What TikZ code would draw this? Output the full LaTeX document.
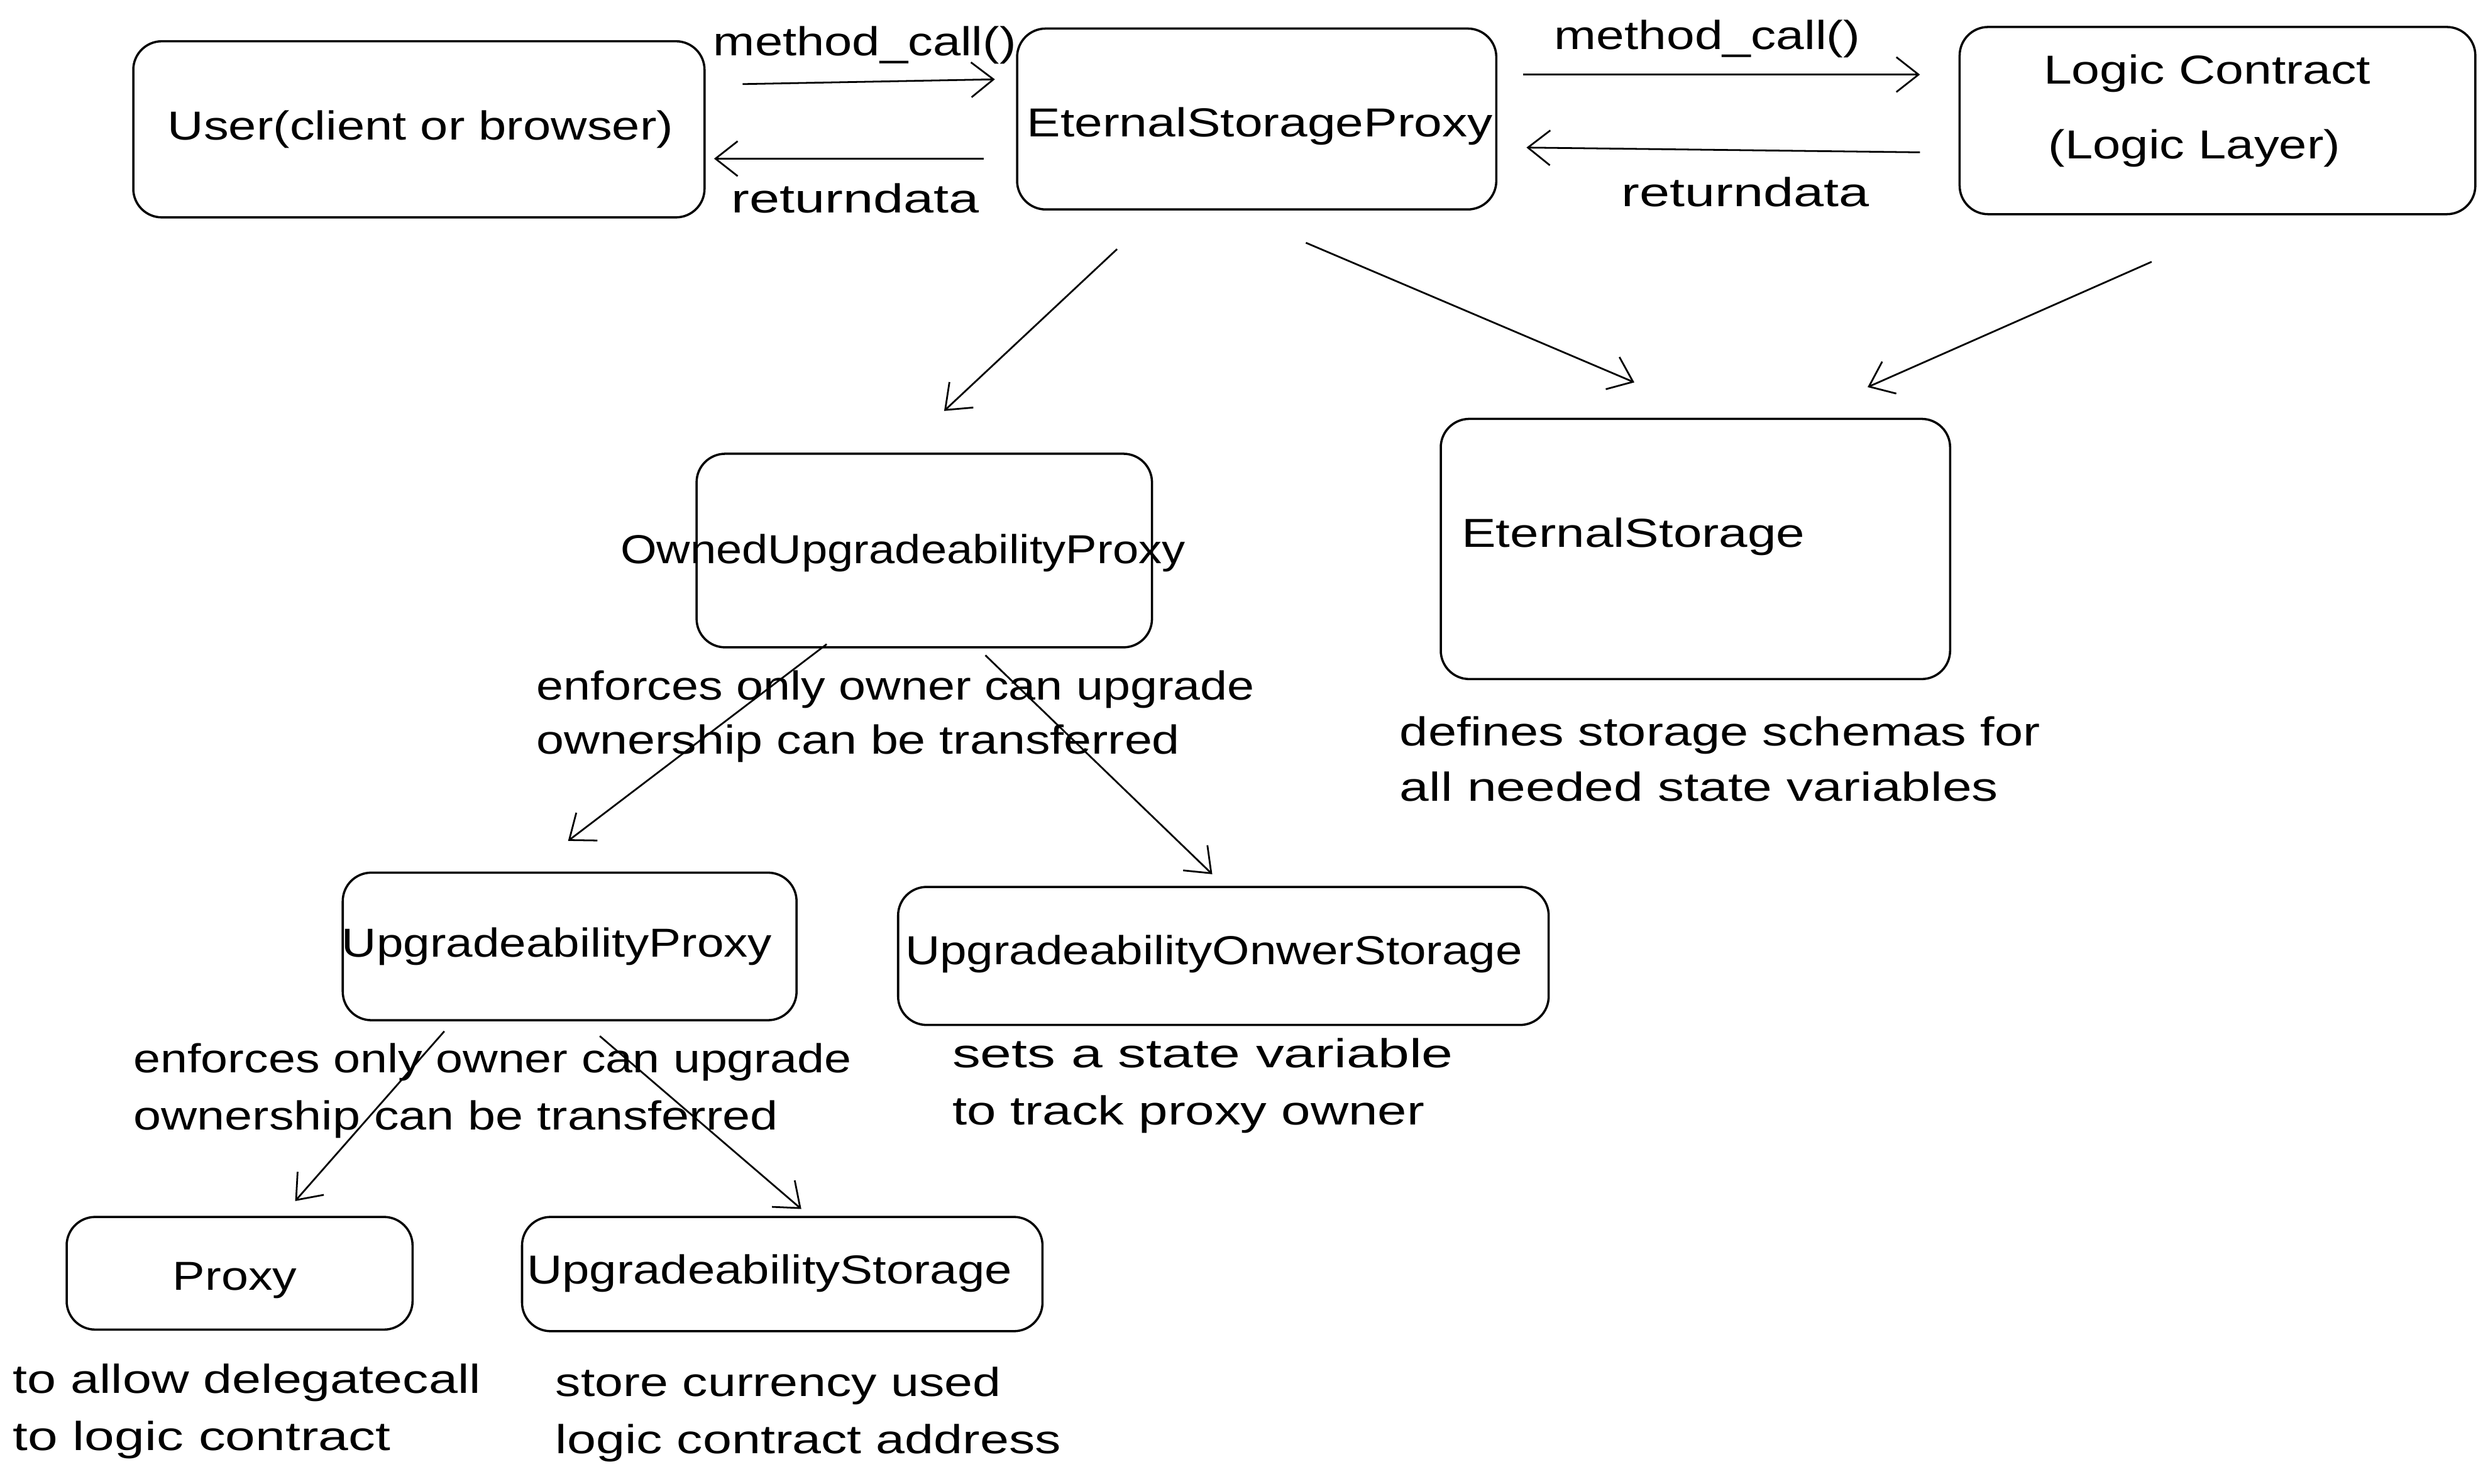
\documentclass[tikz,border=0pt]{standalone}
\usepackage{fontspec}
\usepackage{graphicx}
\setmainfont{Liberation Sans}[FakeStretch=1.2]
\usetikzlibrary{arrows.meta}
\newcommand{\sx}[2]{\scalebox{#1}[1]{#2}}
\begin{document}
\begin{tikzpicture}[x=1pt,y=-1pt,
  box/.style={draw,line width=1.4pt,rounded corners=18pt,minimum width=#1},
  lbl/.style={inner sep=0pt,font=\fontsize{25.5}{30}\selectfont},
  txt/.style={inner sep=0pt,anchor=base west,font=\fontsize{25.5}{30}\selectfont},
  arr/.style={line width=1.1pt,-{Straight Barb[length=14pt,width=22pt,line width=1.1pt]}}]
\useasboundingbox (0,0) rectangle (1568,935);
% boxes
\node[box=360pt,minimum height=111pt] (user) at (264,81.5) {};
\node[box=302pt,minimum height=114pt] (esp) at (792,75) {};
\node[box=325pt,minimum height=118pt] (logic) at (1397.5,76) {};
\node[box=287pt,minimum height=122pt] (oup) at (582.5,347) {};
\node[box=321pt,minimum height=164pt] (es) at (1068.5,346) {};
\node[box=286pt,minimum height=93pt] (up) at (359,596.5) {};
\node[box=410pt,minimum height=87pt] (uos) at (771,602.5) {};
\node[box=218pt,minimum height=71pt] (proxy) at (151,802.5) {};
\node[box=328pt,minimum height=72pt] (us) at (493,803) {};
% box labels
\node[lbl,anchor=base] (userl) at (265,88) {\sx{1.03}{User(client or browser)}};
\node[lbl,anchor=base] (espl) at (794,86) {\sx{1.04}{EternalStorageProxy}};
\node[lbl,anchor=base] (logicl1) at (1391,53) {\sx{1.045}{Logic Contract}};
\node[lbl,anchor=base] (logicl2) at (1383,100) {\sx{1.03}{(Logic Layer)}};
\node[lbl,anchor=base] (oupl) at (569,355) {\sx{0.96}{OwnedUpgradeabilityProxy}};
\node[lbl,anchor=base west] (esl) at (921,345) {\sx{1.06}{EternalStorage}};
\node[lbl,anchor=base] (upl) at (351,603) {\sx{0.99}{UpgradeabilityProxy}};
\node[lbl,anchor=base] (uosl) at (765,608) {\sx{0.99}{UpgradeabilityOnwerStorage}};
\node[lbl,anchor=base] (proxyl) at (148,813) {Proxy};
\node[lbl,anchor=base] (usl) at (485,809) {\sx{1.01}{UpgradeabilityStorage}};
% connector labels
\node[lbl,anchor=base] (mc1) at (545,35) {\sx{1.03}{method\_call()}};
\node[lbl,anchor=base] (rd1) at (539,134) {\sx{1.12}{returndata}};
\node[lbl,anchor=base] (mc2) at (1076,31) {\sx{1.04}{method\_call()}};
\node[lbl,anchor=base] (rd2) at (1100,130) {\sx{1.12}{returndata}};
% descriptions
\node[txt] (d1a) at (338,441) {enforces only owner can upgrade};
\node[txt] (d1b) at (338,475) {\sx{1.023}{ownership can be transferred}};
\node[txt] (d2a) at (882,470) {\sx{1.05}{defines storage schemas for}};
\node[txt] (d2b) at (882,505) {\sx{1.087}{all needed state variables}};
\node[txt] (d3a) at (84,676) {enforces only owner can upgrade};
\node[txt] (d3b) at (84,712) {\sx{1.025}{ownership can be transferred}};
\node[txt] (d4a) at (600,673) {\sx{1.16}{sets a state variable}};
\node[txt] (d4b) at (600,709) {\sx{1.08}{to track proxy owner}};
\node[txt] (d5a) at (8,878) {\sx{1.07}{to allow delegatecall}};
\node[txt] (d5b) at (8,914) {\sx{1.11}{to logic contract}};
\node[txt] (d6a) at (350,880) {\sx{1.045}{store currency used}};
\node[txt] (d6b) at (350,916) {\sx{1.07}{logic contract address}};
% connector end points
\coordinate (a1s) at (468,53); \coordinate (a1e) at (627,50);
\coordinate (a2s) at (620,100); \coordinate (a2e) at (450,100);
\coordinate (a3s) at (960,47); \coordinate (a3e) at (1210,47);
\coordinate (a4s) at (1210,96); \coordinate (a4e) at (962,93);
\coordinate (b1s) at (704,157); \coordinate (b1e) at (595,259);
\coordinate (b2s) at (823,153); \coordinate (b2e) at (1030,241);
\coordinate (b3s) at (1356,165); \coordinate (b3e) at (1177,244);
\coordinate (c1s) at (521,406); \coordinate (c1e) at (358,530);
\coordinate (c2s) at (621,413); \coordinate (c2e) at (764,551);
\coordinate (e1s) at (280,650); \coordinate (e1e) at (186,757);
\coordinate (e2s) at (378,653); \coordinate (e2e) at (505,762);
\foreach \p in {a1,a2,a3,a4,b1,b2,b3,c1,c2,e1,e2}
  \draw[arr] (\p s) -- (\p e);
\end{tikzpicture}
\end{document}
